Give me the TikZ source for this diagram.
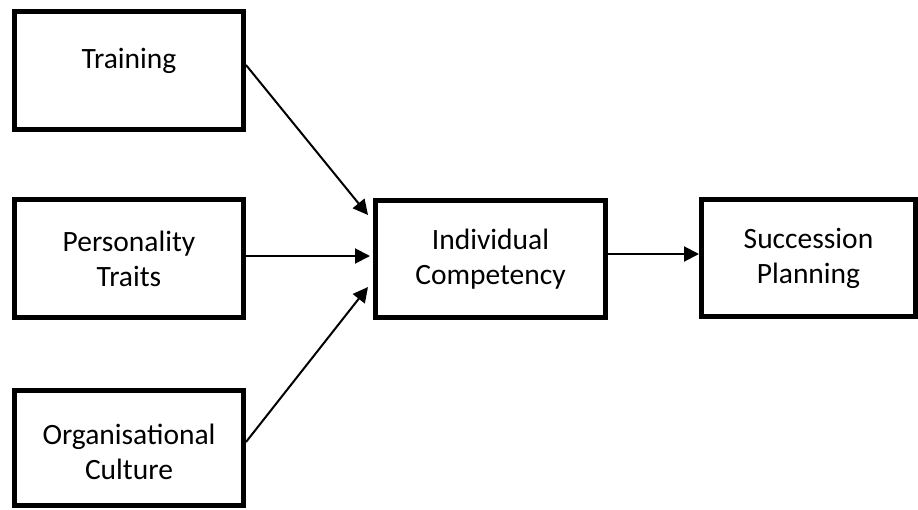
\documentclass[tikz,border=0pt]{standalone}
\usepackage{fontspec}
\setmainfont{Carlito}
\usetikzlibrary{arrows.meta,calc}
\begin{document}
\begin{tikzpicture}[x=1pt,y=-1pt,
  box/.style={draw,line width=5pt,inner sep=0pt,align=center,
    font=\fontsize{29.5}{35}\selectfont},
  txt/.style={inner sep=0pt,align=center,font=\fontsize{29.5}{35}\selectfont},
  arr/.style={line width=2pt,-{Triangle[length=15pt,width=15pt]}}]
\useasboundingbox[fill=white] (0,0) rectangle (918,509);
\node[box,minimum width=229pt,minimum height=118pt] (tr) at (129,70.5) {};
\node[txt] (trt) at ([yshift=10pt]tr.center) {Training};
\node[box,minimum width=229pt,minimum height=118pt] (pt) at (129,258.5) {Personality\\Traits};
\node[box,minimum width=229pt,minimum height=115pt] (oc) at (129,448) {};
\node[txt] (oct) at ([yshift=-4pt]oc.center) {Organisational\\Culture};
\node[box,minimum width=230pt,minimum height=117pt] (ic) at (490.5,259) {Individual\\Competency};
\node[box,minimum width=214pt,minimum height=117pt] (sp) at (808.5,258) {Succession\\Planning};
\draw[arr] ([yshift=5.5pt]tr.east) -- ([xshift=-5pt,yshift=44pt]ic.west);
\draw[arr] ([yshift=2.5pt]pt.east) -- ([xshift=-3pt,yshift=3pt]ic.west);
\draw[arr] ([yshift=6pt]oc.east) -- ([xshift=-5pt,yshift=-28pt]ic.west);
\draw[arr] ([yshift=5pt]ic.east) -- ([yshift=4pt]sp.west);
\end{tikzpicture}
\end{document}
